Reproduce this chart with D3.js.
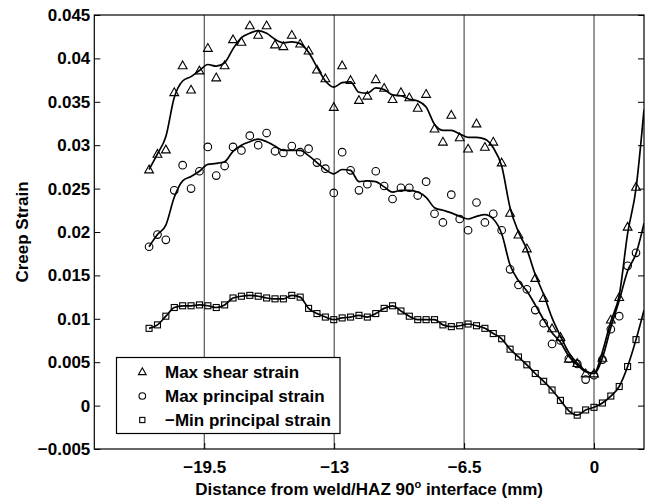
<!DOCTYPE html>
<html><head><meta charset="utf-8">
<script src="https://cdn.jsdelivr.net/npm/d3@7"></script>
<style>body{margin:0;background:#fff}svg text{font-family:"Liberation Sans",Arial,Helvetica,sans-serif;font-weight:bold;}</style>
</head><body>
<svg id="chart" width="649" height="499"></svg>
<script>
// ---- data ----
const xPos = [-22.26,-21.84,-21.42,-21.00,-20.58,-20.16,-19.74,-19.32,-18.90,-18.48,
  -18.06,-17.64,-17.22,-16.80,-16.38,-15.96,-15.54,-15.12,-14.70,-14.28,
  -13.86,-13.44,-13.02,-12.60,-12.18,-11.76,-11.34,-10.92,-10.50,-10.08,
  -9.66,-9.24,-8.82,-8.40,-7.98,-7.56,-7.14,-6.72,-6.30,-5.88,
  -5.46,-5.04,-4.62,-4.20,-3.78,-3.36,-2.94,-2.52,-2.10,-1.68,
  -1.26,-0.84,-0.42,0.00,0.42,0.84,1.26,1.68,2.10];
const maxShear = [0.0272,0.0290,0.0295,0.0361,0.0392,0.0364,0.0386,0.0412,0.0378,0.0392,
  0.0422,0.0419,0.0438,0.0427,0.0438,0.0416,0.0414,0.0427,0.0417,0.0409,
  0.0387,0.0377,0.0344,0.0392,0.0375,0.0352,0.0357,0.0376,0.0366,0.0353,
  0.0361,0.0355,0.0343,0.0359,0.0319,0.0304,0.0335,0.0309,0.0296,0.0325,
  0.0298,0.0304,0.0280,0.0222,0.0197,0.0181,0.0147,0.0124,0.0089,0.0079,
  0.0054,0.0049,0.0037,0.0037,0.0055,0.0099,0.0125,0.0206,0.0252];
const maxPrincipal = [0.0183,0.0197,0.0191,0.0248,0.0277,0.0250,0.0270,0.0298,0.0265,0.0276,
  0.0298,0.0294,0.0311,0.0300,0.0314,0.0293,0.0291,0.0299,0.0292,0.0296,
  0.0280,0.0273,0.0245,0.0292,0.0271,0.0248,0.0255,0.0270,0.0253,0.0238,
  0.0251,0.0251,0.0242,0.0258,0.0221,0.0211,0.0243,0.0215,0.0202,0.0234,
  0.0211,0.0221,0.0202,0.0157,0.0139,0.0134,0.0110,0.0095,0.0071,0.0075,
  0.0054,0.0048,0.0030,0.0035,0.0053,0.0088,0.0103,0.0161,0.0176];
const minPrincipal = [0.0089,0.0093,0.0103,0.0113,0.0115,0.0115,0.0116,0.0115,0.0113,0.0116,
  0.0124,0.0126,0.0127,0.0126,0.0124,0.0123,0.0123,0.0127,0.0125,0.0112,
  0.0106,0.0102,0.0099,0.0101,0.0102,0.0104,0.0102,0.0106,0.0112,0.0115,
  0.0109,0.0103,0.0099,0.0099,0.0099,0.0093,0.0091,0.0092,0.0094,0.0092,
  0.0089,0.0083,0.0077,0.0065,0.0056,0.0047,0.0037,0.0028,0.0018,0.0006,
  -0.0006,-0.0011,-0.0005,-0.0002,0.0003,0.0011,0.0022,0.0045,0.0076];
// smoothed curves, at the same x positions
const maxShearFit = [0.0272,0.0290,0.0310,0.0355,0.0374,0.0379,0.0386,0.0393,0.0391,0.0395,
  0.0411,0.0424,0.0429,0.0432,0.0429,0.0422,0.0418,0.0419,0.0417,0.0407,
  0.0390,0.0374,0.0367,0.0372,0.0373,0.0361,0.0360,0.0366,0.0364,0.0358,
  0.0357,0.0353,0.0351,0.0344,0.0324,0.0317,0.0317,0.0313,0.0309,0.0309,
  0.0307,0.0297,0.0276,0.0228,0.0200,0.0180,0.0151,0.0128,0.0101,0.0080,
  0.0061,0.0049,0.0040,0.0037,0.0062,0.0097,0.0127,0.0198,0.0250];
const maxPrincipalFit = [0.0183,0.0197,0.0208,0.0240,0.0259,0.0264,0.0270,0.0278,0.0279,0.0281,
  0.0293,0.0300,0.0304,0.0307,0.0304,0.0299,0.0294,0.0294,0.0294,0.0288,
  0.0280,0.0272,0.0267,0.0272,0.0271,0.0258,0.0259,0.0258,0.0252,0.0246,
  0.0248,0.0248,0.0246,0.0240,0.0228,0.0225,0.0222,0.0218,0.0215,0.0218,
  0.0220,0.0215,0.0198,0.0162,0.0144,0.0132,0.0116,0.0099,0.0084,0.0073,
  0.0057,0.0047,0.0039,0.0037,0.0055,0.0090,0.0121,0.0155,0.0175];
const minPrincipalFit = minPrincipal;
const fitEndX = 2.5;
const fitEndValues = [0.0341, 0.0210, 0.0110];
const seriesNames = ["Max shear strain", "Max principal strain", "\u2212Min principal strain"];
const xTickValues = [-19.5, -13, -6.5, 0];
const xTickLabels = ["\u221219.5", "\u221213", "\u22126.5", "0"];
const yTickValues = [-0.005, 0, 0.005, 0.01, 0.015, 0.02, 0.025, 0.03, 0.035, 0.04, 0.045];
const yTickLabels = ["\u22120.005", "0", "0.005", "0.01", "0.015", "0.02", "0.025", "0.03", "0.035", "0.04", "0.045"];

// ---- layout ----
const L = 94.3, R = 644, T = 15, B = 449;
const svg = d3.select("#chart");
const x = d3.scaleLinear().domain([-25, 2.5]).range([L, R]);
const y = d3.scaleLinear().domain([-0.005, 0.045]).range([B, T]);
const FS = 17;

// vertical grid lines
svg.append("g").selectAll("line").data(xTickValues).join("line")
  .attr("x1", d => x(d)).attr("x2", d => x(d)).attr("y1", T).attr("y2", B)
  .attr("stroke", "#333").attr("stroke-width", 1);

// axes
const gl = svg.append("g").attr("transform", `translate(${L},0)`)
  .call(d3.axisLeft(y).tickValues(yTickValues).tickFormat((d, i) => yTickLabels[i]).tickSize(-6).tickPadding(4));
const gr = svg.append("g").attr("transform", `translate(${R},0)`)
  .call(d3.axisLeft(y).tickValues(yTickValues).tickFormat("").tickSize(6));
const gb = svg.append("g").attr("transform", `translate(0,${B})`)
  .call(d3.axisBottom(x).tickValues(xTickValues).tickFormat((d, i) => xTickLabels[i]).tickSize(-6).tickPadding(12));
[gl, gr, gb].forEach(g => {
  g.select(".domain").remove();
  g.selectAll(".tick line").attr("stroke", "#000");
  g.selectAll(".tick text").attr("fill", "#000").style("font-size", FS + "px").style("font-family", '"Liberation Sans",Arial,sans-serif').style("font-weight", "bold");
});

// frame
svg.append("rect").attr("x", L).attr("y", T).attr("width", R - L).attr("height", B - T)
  .attr("fill", "none").attr("stroke", "#000").attr("stroke-width", 1.2);

// clip
svg.append("clipPath").attr("id", "clip").append("rect").attr("x", L).attr("y", T).attr("width", R - L).attr("height", B - T);

const plot = svg.append("g").attr("clip-path", "url(#clip)");
const line = d3.line().x(d => x(d[0])).y(d => y(d[1])).curve(d3.curveMonotoneX);
const fits = [maxShearFit, maxPrincipalFit, minPrincipalFit];
fits.forEach((f, k) => {
  const pts = xPos.map((xv, i) => [xv, f[i]]).concat([[fitEndX, fitEndValues[k]]]);
  plot.append("path").datum(pts).attr("d", line)
    .attr("fill", "none").attr("stroke", "#000").attr("stroke-width", 1.7).attr("stroke-linejoin", "round");
});

// markers
function tri(s) { const h = s; return `M0,${-h*0.55}L${h*0.55},${h*0.42}L${-h*0.55},${h*0.42}Z`; }
const mk = { stroke: "#000", width: 1.1 };
plot.append("g").selectAll("path").data(xPos.map((xv, i) => [xv, maxShear[i]])).join("path")
  .attr("transform", d => `translate(${x(d[0])},${y(d[1])})`).attr("d", tri(8))
  .attr("fill", "none").attr("stroke", mk.stroke).attr("stroke-width", mk.width);
plot.append("g").selectAll("circle").data(xPos.map((xv, i) => [xv, maxPrincipal[i]])).join("circle")
  .attr("cx", d => x(d[0])).attr("cy", d => y(d[1])).attr("r", 3.8)
  .attr("fill", "none").attr("stroke", mk.stroke).attr("stroke-width", mk.width);
plot.append("g").selectAll("rect").data(xPos.map((xv, i) => [xv, minPrincipal[i]])).join("rect")
  .attr("x", d => x(d[0]) - 3).attr("y", d => y(d[1]) - 3).attr("width", 6).attr("height", 6)
  .attr("fill", "none").attr("stroke", mk.stroke).attr("stroke-width", mk.width);

// legend
const lg = svg.append("g");
lg.append("rect").attr("x", 116.5).attr("y", 357.5).attr("width", 223.5).attr("height", 76)
  .attr("fill", "#fff").attr("stroke", "#000").attr("stroke-width", 1.2);
const rowY = [371.7, 396, 420];
lg.append("path").attr("transform", `translate(142.3,${rowY[0]})`).attr("d", tri(7))
  .attr("fill", "none").attr("stroke", "#000").attr("stroke-width", 1.1);
lg.append("circle").attr("cx", 142.3).attr("cy", rowY[1]).attr("r", 3.3)
  .attr("fill", "none").attr("stroke", "#000").attr("stroke-width", 1.1);
lg.append("rect").attr("x", 142.3 - 2.6).attr("y", rowY[2] - 2.6).attr("width", 5.2).attr("height", 5.2)
  .attr("fill", "none").attr("stroke", "#000").attr("stroke-width", 1.1);
lg.selectAll("text").data(seriesNames).join("text")
  .attr("x", 165).attr("y", (d, i) => rowY[i] + 6).style("font-size", FS + "px").attr("fill", "#000").text(d => d);

// axis labels
svg.append("text").attr("transform", `translate(28,232) rotate(-90)`).attr("text-anchor", "middle")
  .style("font-size", FS + "px").text("Creep Strain");
const xl = svg.append("text").attr("x", (L + R) / 2).attr("y", 495).attr("text-anchor", "middle").style("font-size", FS + "px");
xl.append("tspan").text("Distance from weld/HAZ 90");
xl.append("tspan").attr("dy", -7).style("font-size", "11px").text("o");
xl.append("tspan").attr("dy", 7).text(" interface (mm)");
</script>
</body></html>
